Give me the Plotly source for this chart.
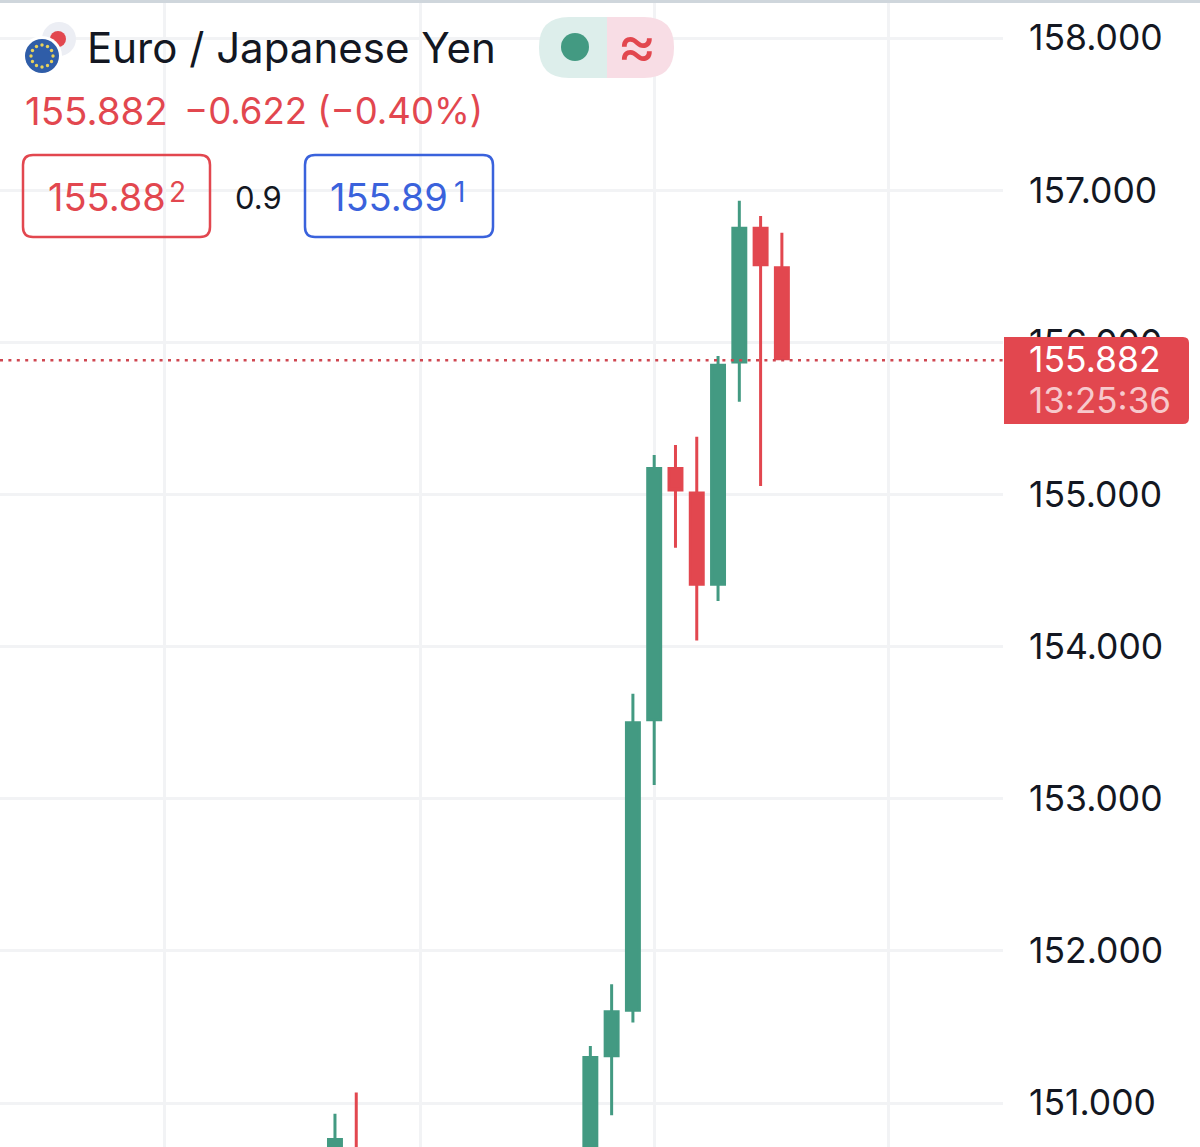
"""EUR/JPY candle chart, TradingView mobile style."""

import math

import plotly.graph_objects as go

WIDTH = 1200
HEIGHT = 1147
PLOT_RIGHT = 1003  # price scale starts here

COLORS = {
    'up': '#439A82',
    'down': '#E2474F',
    'dots': '#CF4650',
    'grid': '#F2F3F5',
    'top_bar': '#CFD6DC',
    'text': '#131722',
    'blue': '#3A62DC',
    'pill_green': '#DDEEEB',
    'pill_red': '#F8DDE5',
    'label_dim': '#F7C9CC',
    'eu': '#2F5DA8',
    'eu_star': '#E8D25A',
    'jp_ring': '#ECEEF4',
}
FONT = 'Inter, Roboto, sans-serif'

# === Candles ===
bars = [0, 1, 12, 13, 14, 15, 16, 17, 18, 19, 20, 21]
opens = [150.50, 150.62, 150.60, 151.31, 151.61, 153.52, 155.17, 155.01, 154.41, 155.87, 156.75, 156.49]
highs = [150.93, 151.07, 151.375, 151.78, 153.69, 155.26, 155.325, 155.38, 155.91, 156.93, 156.83, 156.72]
lows = [150.40, 150.30, 150.50, 150.92, 151.53, 153.09, 154.65, 154.04, 154.30, 155.61, 155.055, 155.882]
closes = [150.76, 150.50, 151.30, 151.60, 153.50, 155.17, 155.03, 154.41, 155.85, 156.75, 156.51, 155.892]

# === Axes ===
price_ticks = [151, 152, 153, 154, 155, 156, 157, 158]
time_grid = [-8, 4, 15, 26]
last_price = 155.882
countdown = '13:25:36'


def px(x):
    return x / WIDTH


def py(y):
    return 1 - y / HEIGHT


def paper_shape(kind, x0, y0, x1, y1, **kwargs):
    """Shape placed in screen pixels"""
    return dict(type=kind, xref='paper', yref='paper', x0=px(x0), y0=py(y0), x1=px(x1), y1=py(y1), **kwargs)


def circle(cx, cy, r, fill, line_color=None, line_width=0):
    return paper_shape('circle', cx - r, cy - r, cx + r, cy + r, fillcolor=fill,
                       line=dict(color=line_color or fill, width=line_width))


def rounded_path(x0, y0, x1, y1, r_left, r_right):
    """Rectangle path with separate left and right corner radii, in paper coordinates"""
    def pt(x, y):
        return f'{px(x)} {py(y)}'
    parts = [f'M {pt(x0 + r_left, y0)}', f'L {pt(x1 - r_right, y0)}']
    if r_right:
        parts += [f'Q {pt(x1, y0)} {pt(x1, y0 + r_right)}', f'L {pt(x1, y1 - r_right)}',
                  f'Q {pt(x1, y1)} {pt(x1 - r_right, y1)}']
    else:
        parts += [f'L {pt(x1, y1)}']
    parts += [f'L {pt(x0 + r_left, y1)}']
    if r_left:
        parts += [f'Q {pt(x0, y1)} {pt(x0, y1 - r_left)}', f'L {pt(x0, y0 + r_left)}',
                  f'Q {pt(x0, y0)} {pt(x0 + r_left, y0)}']
    else:
        parts += [f'L {pt(x0, y0)}']
    return ' '.join(parts) + ' Z'


def path_shape(path, fill=None, line_color=None, line_width=0):
    return dict(type='path', xref='paper', yref='paper', path=path,
                fillcolor=fill or 'rgba(0,0,0,0)',
                line=dict(color=line_color or 'rgba(0,0,0,0)', width=line_width))


def label(text, x, y, size, color, anchor='left'):
    return dict(text=text, xref='paper', yref='paper', x=px(x), y=py(y), xanchor=anchor, yanchor='middle',
                showarrow=False, font=dict(family=FONT, size=size, color=color))


fig = go.Figure()

fig.add_trace(go.Candlestick(
    x=bars,
    open=opens,
    high=highs,
    low=lows,
    close=closes,
    whiskerwidth=0,
    increasing=dict(line=dict(color=COLORS['up'], width=3), fillcolor=COLORS['up']),
    decreasing=dict(line=dict(color=COLORS['down'], width=3), fillcolor=COLORS['down']),
    showlegend=False,
))

shapes = [
    paper_shape('rect', 0, 0, WIDTH, 3, fillcolor=COLORS['top_bar'], line=dict(width=0)),
    # last price line
    dict(type='line', xref='paper', yref='y', x0=0, x1=px(PLOT_RIGHT), y0=last_price, y1=last_price,
         line=dict(color=COLORS['dots'], width=2.5, dash='3px,5.4px')),
    path_shape(rounded_path(1004, 337, 1189, 424, 0, 6), fill=COLORS['down']),
    # status pill
    path_shape(rounded_path(539, 17, 607, 78, 30, 0), fill=COLORS['pill_green']),
    path_shape(rounded_path(607, 17, 674, 78, 0, 30), fill=COLORS['pill_red']),
    circle(575, 47, 14, COLORS['up']),
    # bid / ask boxes
    path_shape(rounded_path(23, 155, 210, 237, 10, 10), line_color=COLORS['down'], line_width=2.5),
    path_shape(rounded_path(305, 155, 493, 237, 10, 10), line_color=COLORS['blue'], line_width=2.5),
    # pair icon
    circle(59, 39, 17, COLORS['jp_ring']),
    circle(58, 39, 8, COLORS['down']),
    circle(42, 56, 20, 'white'),
    circle(42, 56, 17, COLORS['eu']),
]
for i in range(12):
    angle = i * math.pi / 6
    shapes.append(circle(42 + 11 * math.cos(angle), 56 + 11 * math.sin(angle), 1.7, COLORS['eu_star']))

annotations = [
    label('Euro / Japanese Yen', 85, 48, 42, COLORS['text']),
    label('≈', 637, 44, 60, COLORS['down'], anchor='center'),
    label('155.882', 23, 111, 38.5, COLORS['down']),
    label('−0.622 (−0.40%)', 182, 111, 36.5, COLORS['down']),
    label('155.88', 46, 197, 38, COLORS['down']),
    label('2', 167, 192, 28, COLORS['down']),
    label('0.9', 258, 197, 31, COLORS['text'], anchor='center'),
    label('155.89', 328, 197, 38, COLORS['blue']),
    label('1', 452, 192, 28, COLORS['blue']),
    label(f'{last_price:.3f}', 1027, 360, 35.5, 'white'),
    label(countdown, 1027, 400, 35, COLORS['label_dim']),
]

fig.update_layout(
    width=WIDTH,
    height=HEIGHT,
    margin=dict(l=0, r=0, t=0, b=0),
    paper_bgcolor='white',
    plot_bgcolor='white',
    boxgap=0.13,
    shapes=shapes,
    annotations=annotations,
    xaxis=dict(
        domain=[0, px(PLOT_RIGHT)],
        range=[-15.74, 31.39],
        tickvals=time_grid,
        showticklabels=False,
        ticks='',
        showgrid=True,
        gridcolor=COLORS['grid'],
        gridwidth=3,
        zeroline=False,
        showline=False,
        rangeslider=dict(visible=False),
    ),
    yaxis=dict(
        side='right',
        range=[150.711, 158.25],
        tickvals=price_ticks,
        tickformat='.3f',
        tickfont=dict(family=FONT, size=35.5, color=COLORS['text']),
        ticks='',
        ticklabelstandoff=25,
        showgrid=True,
        gridcolor=COLORS['grid'],
        gridwidth=3,
        zeroline=False,
        showline=False,
    ),
)

fig.write_html("out.html", config=dict(displayModeBar=False),
               post_script="document.body.style.margin='0';")
